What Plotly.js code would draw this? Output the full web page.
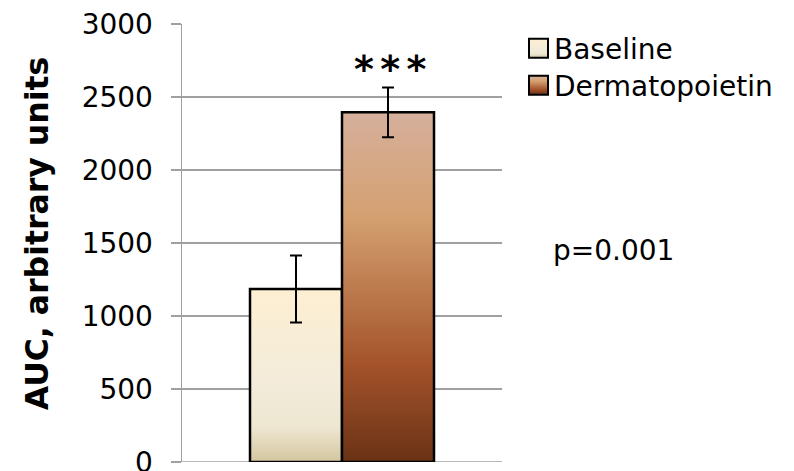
<!DOCTYPE html>
<html>
<head>
<meta charset="utf-8">
<script src="https://cdn.plot.ly/plotly-3.0.1.min.js"></script>
<style>
  html, body { margin: 0; padding: 0; background: #ffffff; }
  #chart { width: 794px; height: 471px; }
</style>
</head>
<body>
<div id="chart"></div>
<script>
// ---- data ----
const categories = ['AUC'];
const seriesNames = ['Baseline', 'Dermatopoietin'];
const baselineValues = [1185];
const baselineErrors = [230];
const dermatoValues = [2395];
const dermatoErrors = [170];
const yTickValues = [0, 500, 1000, 1500, 2000, 2500, 3000];
const yTitle = 'AUC, arbitrary units';
const significanceLabel = '*\u2006*\u2006*';
const significanceY = 2690;
const pValueText = 'p=0.001';

// ---- styles ----
const FONT = 'DejaVu Sans, Verdana, sans-serif';
const gradients = {
  Baseline: [
    [0, '#FDEFD2'], [0.55, '#F3ECDA'], [0.8, '#EDE6D0'], [1, '#D4C6A0']
  ],
  Dermatopoietin: [
    [0, '#D6B09C'], [0.3, '#D4A070'], [0.72, '#A4532A'], [1, '#6A3216']
  ]
};
const flatColors = { Baseline: '#F3EAD4', Dermatopoietin: '#B86B3C' };

const traces = [
  {
    type: 'bar', name: seriesNames[0], x: categories, y: baselineValues,
    error_y: { type: 'data', array: baselineErrors, visible: true, color: '#000', thickness: 2, width: 6 },
    marker: { color: flatColors.Baseline, line: { color: '#000', width: 2.5 } }
  },
  {
    type: 'bar', name: seriesNames[1], x: categories, y: dermatoValues,
    error_y: { type: 'data', array: dermatoErrors, visible: true, color: '#000', thickness: 2, width: 6 },
    marker: { color: flatColors.Dermatopoietin, line: { color: '#000', width: 2.5 } }
  }
];

const L = 182, R = 502, T = 23.5, B = 462;
const pw = R - L, ph = B - T;
const px2x = p => (p - L) / pw;
const px2y = p => (B - p) / ph;

const layout = {
  width: 794, height: 471,
  margin: { l: L, r: 794 - R, t: T, b: 471 - B, pad: 0 },
  paper_bgcolor: '#fff', plot_bgcolor: '#fff',
  font: { family: FONT, size: 28, color: '#000' },
  barmode: 'group', bargap: 0.425, bargroupgap: 0,
  showlegend: true,
  legend: {
    x: px2x(514), y: px2y(23), xanchor: 'left', yanchor: 'top',
    font: { family: FONT, size: 28, color: '#000' },
    bgcolor: 'rgba(0,0,0,0)', borderwidth: 0, tracegroupgap: 0,
    itemwidth: 30
  },
  xaxis: {
    type: 'category', showticklabels: false, ticks: '', showgrid: false,
    zeroline: false, showline: false, fixedrange: true
  },
  yaxis: {
    range: [0, 3000], tickvals: yTickValues, ticktext: yTickValues.map(String),
    showgrid: true, gridcolor: '#A0A0A0', gridwidth: 1.5,
    zeroline: false, showline: true, linecolor: '#A0A0A0', linewidth: 1.5,
    ticks: 'outside', ticklen: 10, tickcolor: '#A0A0A0', tickwidth: 1.5,
    ticklabelstandoff: 12, ticklabeloverflow: 'allow',
    tickfont: { family: FONT, size: 28, color: '#000' },
    fixedrange: true
  },
  shapes: [
    { type: 'line', xref: 'paper', yref: 'y', x0: px2x(172), x1: 1, y0: 0, y1: 0,
      line: { color: '#A0A0A0', width: 1.5 }, layer: 'below' }
  ],
  annotations: [
    { text: yTitle, xref: 'paper', yref: 'paper', x: px2x(37), y: px2y(233),
      xanchor: 'center', yanchor: 'middle', textangle: -90, showarrow: false,
      font: { family: FONT, size: 31.5, color: '#000', weight: 'bold' } },
    { text: significanceLabel, xref: 'paper', yref: 'y', x: px2x(390), y: significanceY,
      xanchor: 'center', yanchor: 'middle', showarrow: false,
      font: { family: FONT, size: 38, color: '#000', weight: 'bold' } },
    { text: pValueText, xref: 'paper', yref: 'paper', x: px2x(551), y: px2y(250),
      xanchor: 'left', yanchor: 'middle', showarrow: false,
      font: { family: FONT, size: 28, color: '#000' } }
  ]
};

function addGradients(gd) {
  const svg = gd.querySelector('svg.main-svg');
  const ns = 'http://www.w3.org/2000/svg';
  let defs = svg.querySelector('defs');
  if (!defs) { defs = document.createElementNS(ns, 'defs'); svg.insertBefore(defs, svg.firstChild); }
  Object.keys(gradients).forEach((name, i) => {
    const lg = document.createElementNS(ns, 'linearGradient');
    lg.setAttribute('id', 'grad' + i);
    lg.setAttribute('x1', '0'); lg.setAttribute('y1', '0');
    lg.setAttribute('x2', '0'); lg.setAttribute('y2', '1');
    gradients[name].forEach(([o, c]) => {
      const st = document.createElementNS(ns, 'stop');
      st.setAttribute('offset', o);
      st.setAttribute('stop-color', c);
      lg.appendChild(st);
    });
    defs.appendChild(lg);
  });
  const idFor = n => 'url(#grad' + Object.keys(gradients).indexOf(n) + ')';
  gd.querySelectorAll('.barlayer g.trace').forEach(g => {
    const cd = g.__data__; const nm = cd && cd[0] && cd[0].trace && cd[0].trace.name;
    if (!nm) return;
    g.querySelectorAll('.point path').forEach(p => { p.style.fill = idFor(nm); });
  });
  const items = gd.querySelectorAll('.legend g.traces');
  let firstY = null;
  items.forEach((g, k) => {
    const cd = g.__data__; const nm = cd && cd[0] && cd[0].trace && cd[0].trace.name;
    const tr = g.getAttribute('transform') || '';
    const m = tr.match(/translate\(\s*([-\d.]+)[ ,]+([-\d.]+)\s*\)/);
    if (m) {
      const tx = parseFloat(m[1]), ty = parseFloat(m[2]);
      if (firstY === null) firstY = ty;
      g.setAttribute('transform', 'translate(' + tx + ',' + (firstY + k * 37) + ')');
    }
    if (!nm) return;
    g.querySelectorAll('path.legendbar, .legendpoints path').forEach(p => {
      p.setAttribute('d', 'M14,9.5H-5V-9.5H14Z');
      p.style.fill = idFor(nm);
      p.style.stroke = '#000';
      p.style.strokeWidth = '2px';
    });
  });
}

Plotly.newPlot('chart', traces, layout, { displayModeBar: false, staticPlot: true })
  .then(addGradients);
</script>
</body>
</html>
